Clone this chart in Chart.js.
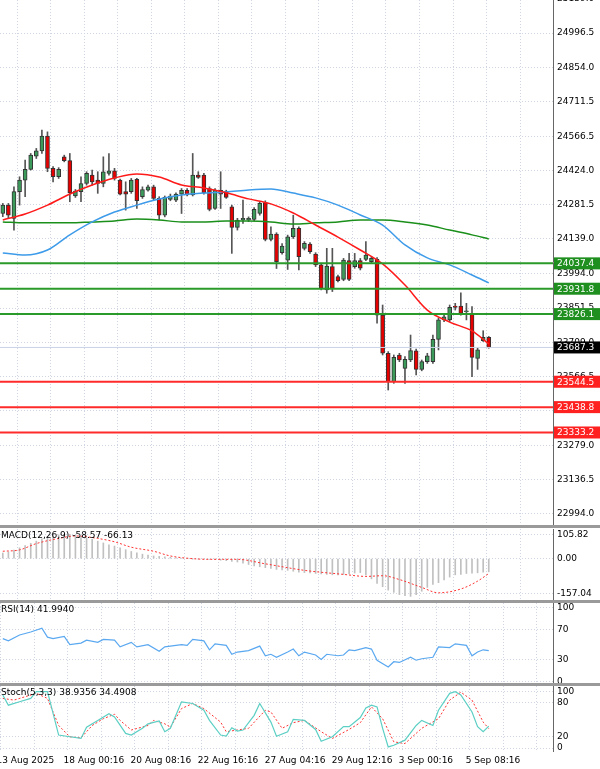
<!DOCTYPE html>
<html>
<head>
<meta charset="utf-8">
<script src="https://cdn.jsdelivr.net/npm/chart.js@4.4.1/dist/chart.umd.min.js"></script>
<style>
  body { margin: 0; background: #fff; width: 600px; height: 769px; overflow: hidden; position: relative; font-family: "DejaVu Sans", sans-serif; }
  canvas { position: absolute; left: 0; }
  .sep { position: absolute; left: 0; width: 600px; height: 3px; background: #9a9a9a; }
  .ttl { position: absolute; left: 1px; font-size: 9px; color: #000; white-space: nowrap; }
</style>
</head>
<body>
<canvas id="mainChart" width="600" height="525" style="top:0"></canvas>
<div class="sep" style="top:525px"></div>
<canvas id="macdChart" width="600" height="71" style="top:529px"></canvas>
<div class="sep" style="top:600px"></div>
<canvas id="rsiChart" width="600" height="81" style="top:603px"></canvas>
<div class="sep" style="top:683px"></div>
<canvas id="stochChart" width="600" height="83" style="top:686px"></canvas>
<div class="ttl" style="top:530px">MACD(12,26,9) -58.57 -66.13</div>
<div class="ttl" style="top:604px">RSI(14) 41.9940</div>
<div class="ttl" style="top:687px">Stoch(5,3,3) 38.9356 34.4908</div>
<script>
// candles (one per bar)
var opens  = [24245,24280,24225,24336,24384,24429,24484,24506,24567,24433,24398,24481,24465,24318,24336,24370,24405,24384,24370,24412,24423,24384,24336,24336,24387,24315,24342,24356,24308,24238,24304,24301,24326,24342,24322,24405,24405,24349,24266,24342,24336,24273,24187,24218,24218,24220,24245,24290,24137,24159,24082,24051,24148,24183,24100,24118,24076,24031,23927,24024,23982,23971,24049,24024,24049,24054,24044,24054,23822,23663,23545,23656,23600,23635,23673,23596,23628,23628,23721,23802,23802,23860,23860,23836,23827,23642,23716,23729];
var closes = [24280,24238,24336,24384,24429,24488,24506,24567,24433,24398,24429,24465,24331,24338,24370,24412,24377,24370,24419,24423,24391,24326,24326,24384,24298,24345,24356,24308,24238,24312,24318,24326,24342,24322,24405,24395,24331,24262,24342,24326,24312,24187,24218,24225,24225,24262,24287,24137,24159,24044,24109,24148,24183,24065,24121,24086,24031,23933,24026,23933,23965,24051,23971,24049,24017,24072,24058,23822,23663,23545,23646,23635,23638,23674,23596,23628,23652,23721,23802,23815,23854,23854,23829,23840,23646,23677,23729,23687];
var highs  = [24287,24287,24356,24398,24467,24495,24516,24592,24585,24440,24436,24488,24495,24345,24398,24419,24426,24419,24481,24495,24433,24388,24377,24391,24391,24356,24363,24363,24315,24318,24326,24331,24349,24349,24495,24419,24412,24356,24349,24419,24342,24280,24225,24301,24231,24270,24294,24298,24190,24165,24120,24155,24238,24190,24128,24124,24082,24038,24100,24100,23989,24058,24079,24079,24058,24128,24065,24062,23864,23670,23656,23663,23649,23739,23680,23635,23663,23739,23809,23822,23864,23871,23915,23871,23857,23684,23757,23733];
var lows   = [24232,24225,24176,24280,24315,24426,24474,24495,24419,24377,24391,24460,24294,24312,24294,24363,24363,24329,24356,24405,24384,24322,24259,24329,24266,24308,24338,24301,24218,24231,24298,24294,24245,24318,24318,24391,24326,24256,24262,24266,24308,24079,24176,24204,24211,24215,24238,24131,24131,24016,24076,24012,24141,24010,24093,24079,24024,23927,23913,23920,23960,23965,23965,24017,24010,24049,24038,23788,23656,23510,23538,23628,23538,23628,23573,23590,23621,23621,23677,23795,23795,23843,23822,23802,23566,23596,23712,23684];

// moving averages, sampled every few bars
var maX     = [0,4,8,12,16,20,24,28,32,36,40,44,48,52,56,60,64,68,72,76,80,84,87];
var maFast  = [24218,24243,24280,24326,24364,24393,24410,24397,24364,24351,24331,24306,24285,24247,24197,24147,24093,24035,23947,23843,23793,23756,23702];
var maMid   = [24081,24072,24093,24156,24210,24251,24280,24305,24322,24330,24335,24343,24347,24330,24310,24280,24239,24197,24114,24060,24031,23989,23956];
var maSlow  = [24210,24206,24206,24206,24210,24214,24222,24218,24210,24210,24214,24214,24210,24201,24206,24210,24218,24218,24210,24197,24176,24156,24139];

var greenLevels = [24037.4, 23931.8, 23826.1];
var redLevels   = [23544.5, 23438.8, 23333.2];
var lastPrice   = 23687.3;
var priceTicks  = [25139.0,24996.5,24854.0,24711.5,24566.5,24424.0,24281.5,24139.0,23994.0,23851.5,23709.0,23566.5,23424.0,23279.0,23136.5,22994.0];

// MACD
var macdHist = [25,30,38,48,58,68,78,88,96,102,106,108,108,104,98,92,86,78,70,62,56,48,40,32,26,20,16,12,10,8,6,4,2,0,-1,-1,-2,-3,-5,-7,-9,-12,-15,-20,-26,-32,-36,-40,-44,-48,-50,-52,-56,-60,-62,-64,-66,-68,-70,-72,-72,-70,-68,-64,-62,-72,-90,-110,-125,-140,-150,-160,-165,-168,-160,-145,-128,-115,-107,-95,-82,-72,-70,-66,-65,-63,-60,-58.57];
var macdSigX = [0,3,6,10,13,17,20,23,27,30,34,37,42,47,54,61,65,68,71,75,78,82,85,87];
var macdSig  = [33,39,67,90,101,90,75,51,33,12,0,-3,-3,-23,-52,-70,-79,-76,-93,-128,-152,-135,-100,-66.13];
var macdTicks = [105.82, 0, -157.04];

// RSI
var rsiX = [0,1,3,5,7,8,9,11,12,14,15,17,18,20,21,23,24,26,28,29,32,33,34,36,37,38,40,41,42,44,46,47,48,49,51,52,53,54,56,57,58,60,61,62,63,65,66,67,69,70,71,73,74,75,77,78,80,81,82,83,84,85,86,87];
var rsiVal = [58,55,63,67,72,60,58,61,50,52,56,53,57,56,47,53,47,50,41,47,50,49,57,55,43,51,49,37,40,42,48,35,37,33,40,44,35,40,36,30,37,35,36,43,42,46,44,29,20,27,26,33,29,31,33,47,46,51,50,49,35,40,43,41.994];
var rsiTicks = [100, 70, 30, 0];

// Stochastic
var stochKX = [0,1,3,5,6,8,10,12,14,15,17,19,20,22,23,25,26,28,29,30,32,34,36,37,39,40,41,42,43,45,46,48,49,51,52,54,56,57,59,61,62,64,65,66,67,68,69,70,72,74,75,77,78,80,81,82,84,85,86,87];
var stochK  = [94,76,82,88,100,100,23,20,17,37,49,61,55,26,23,35,43,48,29,35,82,79,67,49,23,21,36,30,32,58,79,46,21,29,51,49,33,12,20,38,38,54,71,76,73,35,2,5,14,40,49,40,67,97,100,94,64,38,29,38.94];
var stochDX = [0,2,4,6,8,10,12,14,16,18,20,21,23,26,27,29,30,32,34,36,39,40,42,44,47,48,50,52,54,57,59,62,64,66,68,70,72,75,78,80,82,84,86,87];
var stochD  = [88,85,91,97,88,40,20,18,40,52,60,49,32,40,49,43,37,70,79,70,46,29,32,35,67,64,35,45,49,29,17,33,45,73,52,11,8,35,52,85,99,85,46,34.49];
var stochTicks = [100, 80, 20, 0];

var dateLabels = ['13 Aug 2025','18 Aug 00:16','20 Aug 08:16','22 Aug 16:16','27 Aug 04:16','29 Aug 12:16','3 Sep 00:16','5 Sep 08:16'];

var SLOTS = 99;
var GRID = '#cfd6e2';
Chart.defaults.font = { family: 'DejaVu Sans', size: 9 };
Chart.defaults.color = '#000';

function pts(xs, ys) { return xs.map(function(x, i) { return { x: x, y: ys[i] }; }); }
function hline(v, color, w) {
    return { type: 'line', data: [{ x: -0.5, y: v }, { x: SLOTS - 0.5, y: v }], borderColor: color, borderWidth: w, pointRadius: 0, order: 0 };
}
function xScale(showLabels) {
    return {
        type: 'linear', min: -0.5, max: SLOTS - 0.5, offset: false,
        afterBuildTicks: function(s) { var t = []; for (var k = 0; k * 6 < SLOTS; k++) t.push({ value: k * 6 - 0.4 }); s.ticks = t; },
        afterFit: function(s) { s.height = showLabels ? 17 : 0; s.paddingLeft = 0; s.paddingRight = 0; },
        border: { display: false, dash: [1, 2] },
        grid: { color: GRID, lineWidth: 1, drawTicks: false },
        ticks: {
            display: showLabels, autoSkip: false, maxRotation: 0, align: 'start', padding: 3, labelOffset: -4,
            callback: function(v, i) { return i % 2 === 0 ? (dateLabels[i / 2] || '') : ''; }
        }
    };
}
function yScale(min, max, tickVals, fmt) {
    return {
        type: 'linear', position: 'right', min: min, max: max,
        afterBuildTicks: function(s) { s.ticks = tickVals.map(function(v) { return { value: v }; }); },
        afterFit: function(s) { s.width = 47; s.paddingTop = 0; s.paddingBottom = 0; },
        border: { display: false, dash: [1, 2] },
        grid: { color: GRID, drawTicks: false },
        ticks: { padding: 4, autoSkip: false, callback: fmt }
    };
}
function baseOptions(xs, ys) {
    return {
        responsive: false, animation: false, devicePixelRatio: 1,
        layout: { padding: 0 },
        plugins: { legend: { display: false }, tooltip: { enabled: false } },
        scales: { x: xs, y: ys }
    };
}

// right axis line, and label boxes on the price axis
var axisLine = {
    id: 'axisLine',
    afterDraw: function(chart) {
        var ctx = chart.ctx, a = chart.chartArea;
        ctx.save();
        ctx.strokeStyle = '#666';
        ctx.lineWidth = 1;
        ctx.beginPath();
        ctx.moveTo(a.right + 0.5, 0);
        ctx.lineTo(a.right + 0.5, a.bottom);
        ctx.stroke();
        ctx.restore();
    }
};
var levelBoxes = {
    id: 'levelBoxes',
    afterDraw: function(chart) {
        var ctx = chart.ctx, y = chart.scales.y, left = chart.chartArea.right + 1;
        var boxes = [];
        greenLevels.forEach(function(v) { boxes.push([v, '#1f8f1f']); });
        redLevels.forEach(function(v) { boxes.push([v, '#ff2020']); });
        boxes.push([lastPrice, '#000']);
        ctx.save();
        ctx.font = '9px DejaVu Sans';
        ctx.textBaseline = 'middle';
        boxes.forEach(function(b) {
            var py = y.getPixelForValue(b[0]);
            ctx.fillStyle = b[1];
            ctx.fillRect(left, py - 6, 46, 12);
            ctx.fillStyle = '#fff';
            ctx.fillText(b[0].toFixed(1), left + 3, py + 0.5);
        });
        ctx.restore();
    }
};

// main price chart
var bodyColors = opens.map(function(o, i) { return closes[i] >= o ? '#3c9b5b' : '#e60000'; });
new Chart(document.getElementById('mainChart'), {
    type: 'bar',
    data: {
        datasets: [
            hline(lastPrice, '#c9d3e6', 1),
            hline(greenLevels[0], '#2a9a2a', 2), hline(greenLevels[1], '#2a9a2a', 2), hline(greenLevels[2], '#2a9a2a', 2),
            hline(redLevels[0], '#ff2a2a', 2), hline(redLevels[1], '#ff2a2a', 2), hline(redLevels[2], '#ff2a2a', 2),
            { type: 'line', data: pts(maX, maFast), borderColor: '#ff1a1a', borderWidth: 1.5, pointRadius: 0, cubicInterpolationMode: 'monotone', order: 1 },
            { type: 'line', data: pts(maX, maMid), borderColor: '#3d9be9', borderWidth: 1.5, pointRadius: 0, cubicInterpolationMode: 'monotone', order: 1 },
            { type: 'line', data: pts(maX, maSlow), borderColor: '#1a8f1a', borderWidth: 1.5, pointRadius: 0, cubicInterpolationMode: 'monotone', order: 1 },
            { data: opens.map(function(o, i) { return { x: i, y: [o, closes[i]] }; }), backgroundColor: bodyColors, borderColor: '#333', borderWidth: 1, borderSkipped: false, barThickness: 4, grouped: false, order: 3 },
            { data: lows.map(function(l, i) { return { x: i, y: [l, highs[i]] }; }), backgroundColor: '#555', barThickness: 1, grouped: false, order: 4 }
        ]
    },
    options: baseOptions(xScale(false), yScale(22948, 25134, priceTicks, function(v) { return v.toFixed(1); })),
    plugins: [axisLine, levelBoxes]
});

// MACD
new Chart(document.getElementById('macdChart'), {
    type: 'bar',
    data: {
        datasets: [
            { type: 'line', data: pts(macdSigX, macdSig), borderColor: '#ff3333', borderWidth: 1, borderDash: [2, 2], pointRadius: 0, cubicInterpolationMode: 'monotone', order: 0 },
            { data: macdHist.map(function(v, i) { return { x: i, y: v }; }), backgroundColor: '#c0c0c0', barThickness: 1, grouped: false, order: 1 }
        ]
    },
    options: baseOptions(xScale(false), yScale(-184, 132, macdTicks, function(v) { return v.toFixed(2); })),
    plugins: [axisLine]
});

// RSI
new Chart(document.getElementById('rsiChart'), {
    type: 'line',
    data: { datasets: [{ data: pts(rsiX, rsiVal), borderColor: '#5aa8f0', borderWidth: 1.2, pointRadius: 0 }] },
    options: baseOptions(xScale(false), yScale(-3, 106, rsiTicks, function(v) { return String(v); })),
    plugins: [axisLine]
});

// Stochastic
new Chart(document.getElementById('stochChart'), {
    type: 'line',
    data: {
        datasets: [
            { data: pts(stochKX, stochK), borderColor: '#5ccfc4', borderWidth: 1.2, pointRadius: 0 },
            { data: pts(stochDX, stochD), borderColor: '#ff3333', borderWidth: 1, borderDash: [2, 2], pointRadius: 0 }
        ]
    },
    options: baseOptions(xScale(true), yScale(-7, 110, stochTicks, function(v) { return String(v); })),
    plugins: [axisLine]
});
</script>
</body>
</html>
